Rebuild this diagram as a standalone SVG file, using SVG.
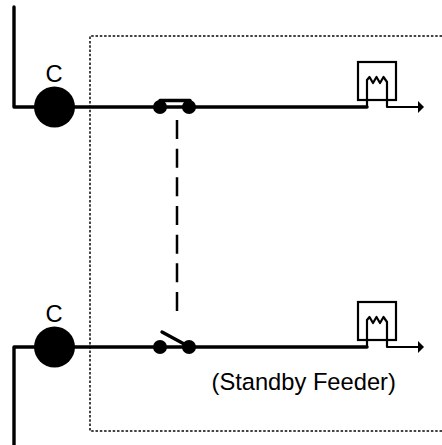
<svg xmlns="http://www.w3.org/2000/svg" width="442" height="445" viewBox="0 0 442 445">
<style>
text{font-family:"Liberation Sans",Arial,sans-serif;font-size:23.7px;fill:#000}
.w{fill:none;stroke:#000;stroke-width:3.4;stroke-linejoin:round;stroke-linecap:round}
.t{fill:none;stroke:#000;stroke-width:2.2;stroke-linejoin:round}
.d{fill:#000}
</style>
<defs>
<g id="ct">
<rect x="358" y="62" width="38" height="38" fill="none" stroke="#000" stroke-width="2.200"/>
<path class="t" d="M367 107V80L369.500 77 373 83 376.500 77 380 83 383.500 77 387 82V107H419"/>
<path class="d" d="M418 101L424 107 418 113Z"/>
</g>
</defs>
<g id="boundary"><path d="M442 36H90V431H442" fill="none" stroke="#444" stroke-width="2" stroke-dasharray="2.500 1.800"/></g>
<g id="connectors">
<path class="w" d="M14 7V107H367"/>
<path class="w" d="M14 445V347H367"/>
<path d="M177 120V312" fill="none" stroke="#000" stroke-width="2.500" stroke-dasharray="19 9.670"/>
</g>
<g id="source-top"><circle class="d" cx="54.500" cy="107" r="20.500"/><text x="54" y="81.500" text-anchor="middle">C</text></g>
<g id="source-bottom"><circle class="d" cx="54.500" cy="347" r="20.500"/><text x="54" y="321.500" text-anchor="middle">C</text></g>
<g id="switch-closed"><circle class="d" cx="160" cy="107" r="7"/><circle class="d" cx="189" cy="107" r="7"/><path class="w" d="M160 100.500H190"/></g>
<g id="switch-open"><circle class="d" cx="160" cy="347" r="7"/><circle class="d" cx="189" cy="347" r="7"/><path class="w" d="M162 332L186 345"/></g>
<g id="ct-top"><use href="#ct"/></g>
<g id="ct-bottom"><use href="#ct" y="240"/></g>
<text x="211.500" y="390">(Standby Feeder)</text>
</svg>
